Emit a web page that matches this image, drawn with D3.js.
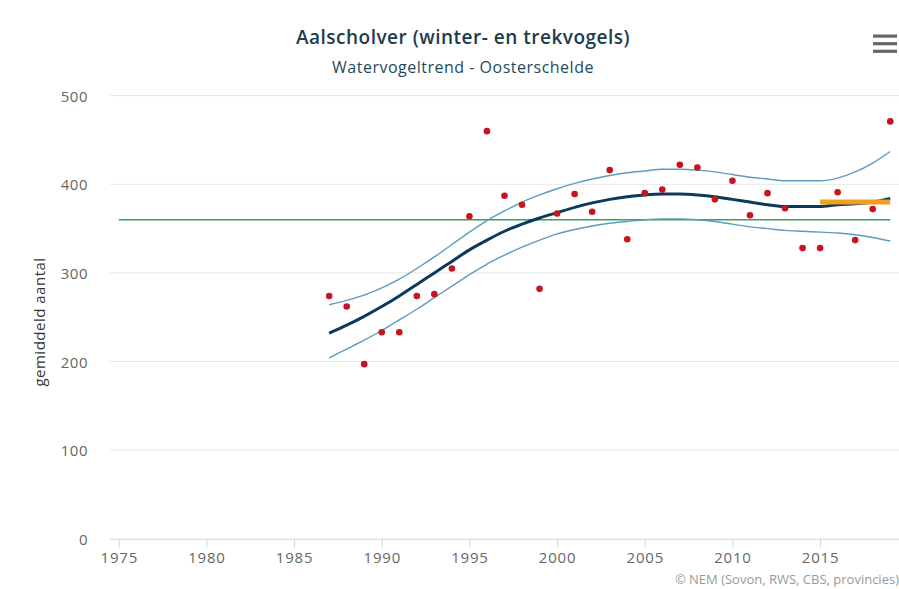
<!DOCTYPE html>
<html>
<head>
<meta charset="utf-8">
<script src="https://cdn.jsdelivr.net/npm/d3@7"></script>
<style>
  body { margin: 0; background: #fff; }
  svg { display: block; font-family: "Open Sans", sans-serif; }
</style>
</head>
<body>
<svg width="899" height="589"></svg>
<script>
var years = d3.range(1987, 2020);
var counts = [274, 262, 197, 233, 233, 274, 276, 305, 364, 460, 387, 377, 282, 367, 389, 369, 416, 338, 390, 394, 422, 419, 383, 404, 365, 390, 373, 328, 328, 391, 337, 372, 471];
var trend = [232, 241, 251, 262, 274, 287, 300, 313, 326, 337, 347, 355, 362, 368, 374, 379, 383, 386, 388, 389, 389, 388, 386, 383, 380, 377, 375, 375, 375, 377, 378, 380, 384];
var upper = [264, 269, 275, 283, 293, 305, 318, 332, 346, 359, 370, 380, 388, 395, 401, 406, 410, 413, 415, 417, 417, 416, 414, 411, 408, 406, 404, 404, 404, 407, 414, 424, 437];
var lower = [204, 214, 224, 235, 247, 259, 272, 285, 298, 310, 320, 329, 337, 344, 349, 353, 356, 358, 360, 361, 361, 360, 358, 355, 352, 350, 348, 347, 346, 345, 343, 340, 336];
var refLevel = 360;
var refYears = [1975, 2019];
var recentYears = [2015, 2019];
var recentLevel = 380;
var xTicks = [1975, 1980, 1985, 1990, 1995, 2000, 2005, 2010, 2015];
var yTicks = [0, 100, 200, 300, 400, 500];

function draw() {
    var svg = d3.select('svg');
    var plotLeft = 110, plotRight = 899, plotTop = 95.7, plotBottom = 538.7;

    var x = d3.scaleLinear().domain([1974.5, 2019.5]).range([plotLeft, plotRight]);
    var y = d3.scaleLinear().domain([0, 500]).range([plotBottom, plotTop]);

    // title
    svg.append('text')
        .attr('x', 463).attr('y', 44)
        .attr('text-anchor', 'middle')
        .attr('fill', '#1d3c4c')
        .style('font-size', '19px').style('font-weight', 600)
        .style('letter-spacing', '0.5px')
        .text('Aalscholver (winter- en trekvogels)');
    svg.append('text')
        .attr('x', 463).attr('y', 73)
        .attr('text-anchor', 'middle')
        .attr('fill', '#1f4a58')
        .style('font-size', '16px')
        .style('letter-spacing', '0.5px')
        .text('Watervogeltrend - Oosterschelde');

    // menu icon
    svg.selectAll('.menu').data([0, 1, 2]).enter().append('rect')
        .attr('class', 'menu')
        .attr('x', 873).attr('y', function (d) { return 34.5 + d * 7.6; })
        .attr('width', 24).attr('height', 3.2)
        .attr('fill', '#666');

    // grid
    svg.selectAll('.grid').data(yTicks.slice(1)).enter().append('line')
        .attr('class', 'grid')
        .attr('x1', plotLeft).attr('x2', plotRight)
        .attr('y1', function (d) { return y(d); }).attr('y2', function (d) { return y(d); })
        .attr('stroke', '#e6e6e6');

    // y axis labels
    svg.selectAll('.ylab').data(yTicks).enter().append('text')
        .attr('class', 'ylab')
        .attr('x', 88).attr('y', function (d) { return y(d) + 6; })
        .attr('text-anchor', 'end')
        .attr('fill', '#666')
        .style('font-size', '15px')
        .style('letter-spacing', '0.5px')
        .text(function (d) { return d; });

    svg.append('text')
        .attr('transform', 'translate(45,' + 322 + ') rotate(-90)')
        .attr('text-anchor', 'middle')
        .attr('fill', '#333')
        .style('font-size', '15px')
        .style('letter-spacing', '0.5px')
        .text('gemiddeld aantal');

    // x axis
    var xAxis = svg.append('g')
        .attr('transform', 'translate(0,' + plotBottom + ')')
        .call(d3.axisBottom(x).tickValues(xTicks).tickFormat(d3.format('d')).tickSize(9).tickPadding(5));
    xAxis.select('.domain').attr('stroke', '#ccd6eb').attr('d', 'M' + plotLeft + ',0.5H' + plotRight);
    xAxis.selectAll('.tick line').attr('stroke', '#ccd6eb');
    xAxis.selectAll('.tick text').attr('fill', '#666')
        .style('font-size', '15px').style('letter-spacing', '0.8px')
        .style('font-family', '"Open Sans", sans-serif');

    // reference line
    svg.append('line')
        .attr('x1', x(refYears[0])).attr('x2', x(refYears[1]))
        .attr('y1', y(refLevel)).attr('y2', y(refLevel))
        .attr('stroke', '#37a05a').attr('stroke-width', 1.5);

    var line = function (vals) {
        return d3.line()
            .x(function (d, i) { return x(years[i]); })
            .y(function (d) { return y(d); })
            .curve(d3.curveMonotoneX)(vals);
    };

    svg.append('path').attr('d', line(upper))
        .attr('fill', 'none').attr('stroke', '#5b9cc0').attr('stroke-width', 1.4);
    svg.append('path').attr('d', line(lower))
        .attr('fill', 'none').attr('stroke', '#5b9cc0').attr('stroke-width', 1.4);
    svg.append('path').attr('d', line(trend))
        .attr('fill', 'none').attr('stroke', '#0a3a5e').attr('stroke-width', 3);

    // recent level
    svg.append('line')
        .attr('x1', x(recentYears[0])).attr('x2', x(recentYears[1]))
        .attr('y1', y(recentLevel)).attr('y2', y(recentLevel))
        .attr('stroke', '#f0a01e').attr('stroke-width', 5);

    // points
    svg.selectAll('.pt').data(counts).enter().append('circle')
        .attr('class', 'pt')
        .attr('cx', function (d, i) { return x(years[i]); })
        .attr('cy', function (d) { return y(d); })
        .attr('r', 3.3)
        .attr('fill', '#c8141e');

    // credits
    svg.append('text')
        .attr('x', 899).attr('y', 584)
        .attr('text-anchor', 'end')
        .attr('fill', '#999')
        .style('font-size', '13px')
        .text('© NEM (Sovon, RWS, CBS, provincies)');
}
draw();
</script>
</body>
</html>
